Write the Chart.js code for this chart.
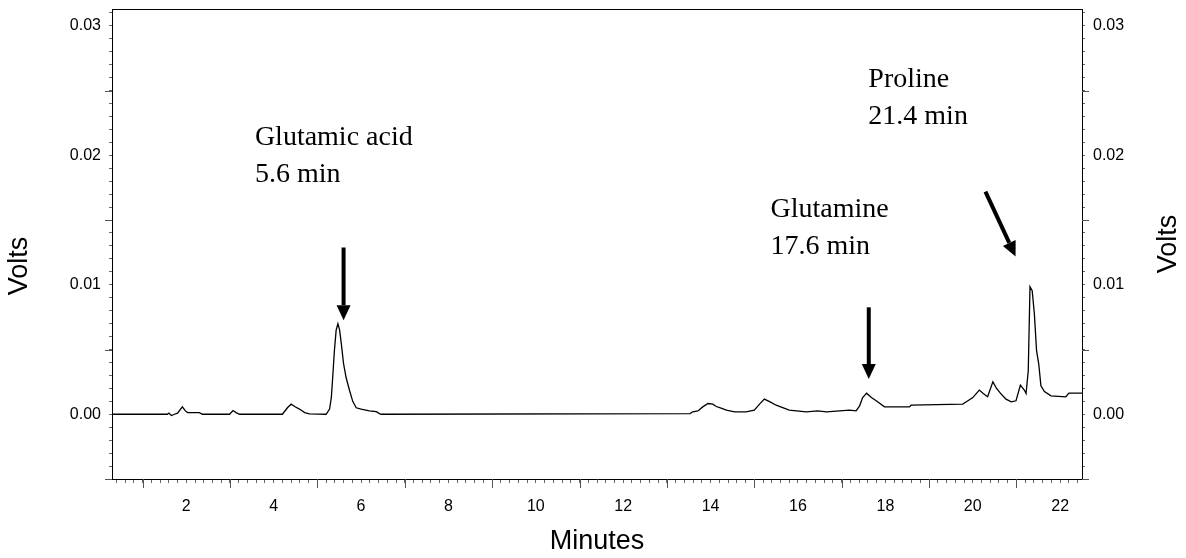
<!DOCTYPE html>
<html>
<head>
<meta charset="utf-8">
<script src="https://cdn.jsdelivr.net/npm/chart.js@4"></script>
<style>
  html, body { margin: 0; padding: 0; background: #fff; }
  #wrap { width: 1186px; height: 558px; position: relative; }
</style>
</head>
<body>
<div id="wrap"><canvas id="chrom"></canvas></div>
<script>
// detector trace
const minutes = [0.3, 1.57, 1.6, 1.66, 1.73, 1.8, 1.91, 1.98, 2.03, 2.3, 2.37, 2.99, 3.07, 3.14, 3.22,
  4.2, 4.32, 4.4, 4.48, 4.59, 4.71, 4.82, 5.2, 5.28, 5.32, 5.35, 5.39, 5.43, 5.47, 5.51, 5.55, 5.6,
  5.66, 5.74, 5.81, 5.89, 6.0, 6.19, 6.35, 6.42, 6.46, 13.53, 13.59, 13.71, 13.82, 13.94, 14.05,
  14.13, 14.24, 14.36, 14.55, 14.81, 15.0, 15.12, 15.23, 15.35, 15.5, 15.65, 15.8, 16.19, 16.45,
  16.65, 17.18, 17.33, 17.41, 17.48, 17.57, 17.68, 17.79, 17.98, 18.55, 18.59, 19.77, 19.89, 20.0,
  20.15, 20.24, 20.34, 20.46, 20.54, 20.65, 20.76, 20.88, 20.99, 21.09, 21.18, 21.22, 21.27, 21.31,
  21.36, 21.41, 21.46, 21.51, 21.56, 21.64, 21.79, 22.13, 22.2, 22.5];
const volts = [0, 0, 0.00009, -0.0001, 0, 0.00009, 0.00057, 0.00026, 0.00013, 0.00013, 0, 0, 0.00029, 0.00013, 0,
  0, 0.00052, 0.00078, 0.0006, 0.0004, 0.00013, 0.00003, 0, 0.0004, 0.0013, 0.0028, 0.0049, 0.0065, 0.007, 0.0065, 0.0054, 0.0039,
  0.0028, 0.0018, 0.001, 0.0005, 0.0004, 0.00026, 0.0002, 0.00005, 0, 0.00005, 0.00019, 0.00026, 0.00057, 0.00083, 0.00078,
  0.0006, 0.00047, 0.00032, 0.00019, 0.00019, 0.00032, 0.00078, 0.00117, 0.00098, 0.0007, 0.00052, 0.00032, 0.00019, 0.00026,
  0.00019, 0.00032, 0.00026, 0.00065, 0.00129, 0.00163, 0.00129, 0.00104, 0.00057, 0.00057, 0.0007, 0.00078, 0.00104, 0.00129,
  0.00187, 0.0016, 0.00135, 0.00251, 0.00202, 0.00156, 0.00117, 0.00096, 0.00104, 0.00225, 0.00187, 0.0016, 0.00336, 0.00986,
  0.00955, 0.00775, 0.00491, 0.00388, 0.0022, 0.00176, 0.00142, 0.00135, 0.00163, 0.00163];

const xLabels = [2, 4, 6, 8, 10, 12, 14, 16, 18, 20, 22];
const yLabels = [0, 0.01, 0.02, 0.03];
const xMajor = [1, 3, 5, 7, 9, 11, 13, 15, 17, 19, 21];
const yMajor = [-0.005, 0.005, 0.015, 0.025];

const peakNames = [['Glutamic acid', '5.6 min'], ['Glutamine', '17.6 min'], ['Proline', '21.4 min']];
// text anchor (minutes, volts) and arrow tail -> tip, in axis units
const noteAt = [[3.57, 0.02077], [15.37, 0.0152], [17.61, 0.02526]];
const arrows = [[5.6, 0.01288, 5.6, 0.00727], [17.62, 0.00826, 17.62, 0.00272], [20.29, 0.0172, 20.98, 0.01218]];

const trace = minutes.map((m, i) => ({x: m, y: volts[i]}));

Chart.defaults.font.family = 'Liberation Sans, Arial, sans-serif';
Chart.defaults.color = '#000';

function voltTicks(scale) {
  const t = [];
  for (let k = -5; k <= 31; k++) t.push({value: k / 1000});
  scale.ticks = t;
}
function voltLabel(v) {
  return yLabels.some(l => Math.abs(l - v) < 1e-9) ? v.toFixed(2) : '';
}
function fitVolt(w) {
  return function (scale) {
    scale.width = w;
    scale.paddingTop = 0;
    scale.paddingBottom = 0;
  };
}
function sideTitle(ctx, text, x, y) {
  ctx.save();
  ctx.translate(x, y);
  ctx.rotate(-Math.PI / 2);
  ctx.fillText(text, 0, 0);
  ctx.restore();
}

const extras = {
  id: 'extras',
  afterDraw(chart) {
    const {ctx, chartArea: a, scales} = chart;
    const sx = scales.x, sy = scales.y;
    ctx.save();
    // top frame line
    ctx.strokeStyle = '#000';
    ctx.lineWidth = 1;
    ctx.beginPath();
    ctx.moveTo(a.left, a.top + 0.5);
    ctx.lineTo(a.right, a.top + 0.5);
    ctx.stroke();
    // longer ticks
    ctx.strokeStyle = '#555';
    ctx.beginPath();
    xMajor.forEach(m => {
      const px = Math.round(sx.getPixelForValue(m)) + 0.5;
      ctx.moveTo(px, a.bottom);
      ctx.lineTo(px, a.bottom + 9);
    });
    yMajor.forEach(v => {
      const py = Math.round(sy.getPixelForValue(v)) + 0.5;
      ctx.moveTo(a.left - 7, py);
      ctx.lineTo(a.left, py);
      ctx.moveTo(a.right, py);
      ctx.lineTo(a.right + 7, py);
    });
    ctx.stroke();

    // both axis titles read upward
    ctx.fillStyle = '#000';
    ctx.font = '27px "Liberation Sans", Arial, sans-serif';
    ctx.textAlign = 'center';
    ctx.textBaseline = 'middle';
    const mid = (a.top + a.bottom) / 2;
    sideTitle(ctx, 'Volts', a.left - 92, mid + 22);
    sideTitle(ctx, 'Volts', a.right + 87, mid);

    // peak notes
    ctx.font = '28px "Liberation Serif", "Times New Roman", serif';
    ctx.textAlign = 'left';
    ctx.textBaseline = 'alphabetic';
    peakNames.forEach((lines, i) => {
      const px = sx.getPixelForValue(noteAt[i][0]);
      const py = sy.getPixelForValue(noteAt[i][1]);
      lines.forEach((s, j) => ctx.fillText(s, px, py + j * 37));
    });

    // arrows
    arrows.forEach(([m0, v0, m1, v1]) => {
      const x0 = sx.getPixelForValue(m0), y0 = sy.getPixelForValue(v0);
      const x1 = sx.getPixelForValue(m1), y1 = sy.getPixelForValue(v1);
      const ang = Math.atan2(y1 - y0, x1 - x0);
      const head = 15, half = 7;
      const bx = x1 - head * Math.cos(ang), by = y1 - head * Math.sin(ang);
      ctx.strokeStyle = '#000';
      ctx.lineWidth = 4;
      ctx.beginPath();
      ctx.moveTo(x0, y0);
      ctx.lineTo(bx, by);
      ctx.stroke();
      ctx.beginPath();
      ctx.moveTo(x1, y1);
      ctx.lineTo(bx + half * Math.sin(ang), by - half * Math.cos(ang));
      ctx.lineTo(bx - half * Math.sin(ang), by + half * Math.cos(ang));
      ctx.closePath();
      ctx.fill();
    });
    ctx.restore();
  }
};

new Chart(document.getElementById('chrom'), {
  type: 'line',
  data: {
    datasets: [{
      data: trace,
      borderColor: '#000',
      borderWidth: 1.3,
      pointRadius: 0,
      tension: 0,
      fill: false
    }]
  },
  options: {
    responsive: true,
    maintainAspectRatio: false,
    animation: false,
    devicePixelRatio: 1,
    layout: {padding: {top: 9, left: 0, right: 0, bottom: 0}},
    plugins: {legend: {display: false}, tooltip: {enabled: false}},
    scales: {
      x: {
        type: 'linear',
        min: 0.3,
        max: 22.5,
        afterBuildTicks(scale) {
          const t = [];
          for (let k = 2; k <= 112; k++) t.push({value: k / 5});
          scale.ticks = t;
        },
        afterFit(scale) {
          scale.height = 79;
          scale.paddingLeft = 0;
          scale.paddingRight = 0;
        },
        ticks: {
          autoSkip: false,
          maxRotation: 0,
          padding: 14,
          font: {size: 16},
          callback(v) {
            const r = Math.round(v);
            return (Math.abs(v - r) < 1e-9 && xLabels.includes(r)) ? String(r) : '';
          }
        },
        grid: {drawOnChartArea: false, color: '#666', tickLength: 4},
        border: {color: '#000', width: 1},
        title: {display: true, text: 'Minutes', font: {size: 27}, padding: {top: 0, bottom: 0}}
      },
      y: {
        position: 'left',
        min: -0.005,
        max: 0.0313,
        afterBuildTicks: voltTicks,
        afterFit: fitVolt(112),
        ticks: {autoSkip: false, padding: 8, font: {size: 16}, callback: voltLabel},
        grid: {drawOnChartArea: false, color: '#666', tickLength: 3},
        border: {color: '#000', width: 1}
      },
      y2: {
        position: 'right',
        min: -0.005,
        max: 0.0313,
        afterBuildTicks: voltTicks,
        afterFit: fitVolt(104),
        ticks: {autoSkip: false, padding: 8, font: {size: 16}, callback: voltLabel},
        grid: {drawOnChartArea: false, color: '#666', tickLength: 3},
        border: {color: '#000', width: 1}
      }
    }
  },
  plugins: [extras]
});
</script>
</body>
</html>
